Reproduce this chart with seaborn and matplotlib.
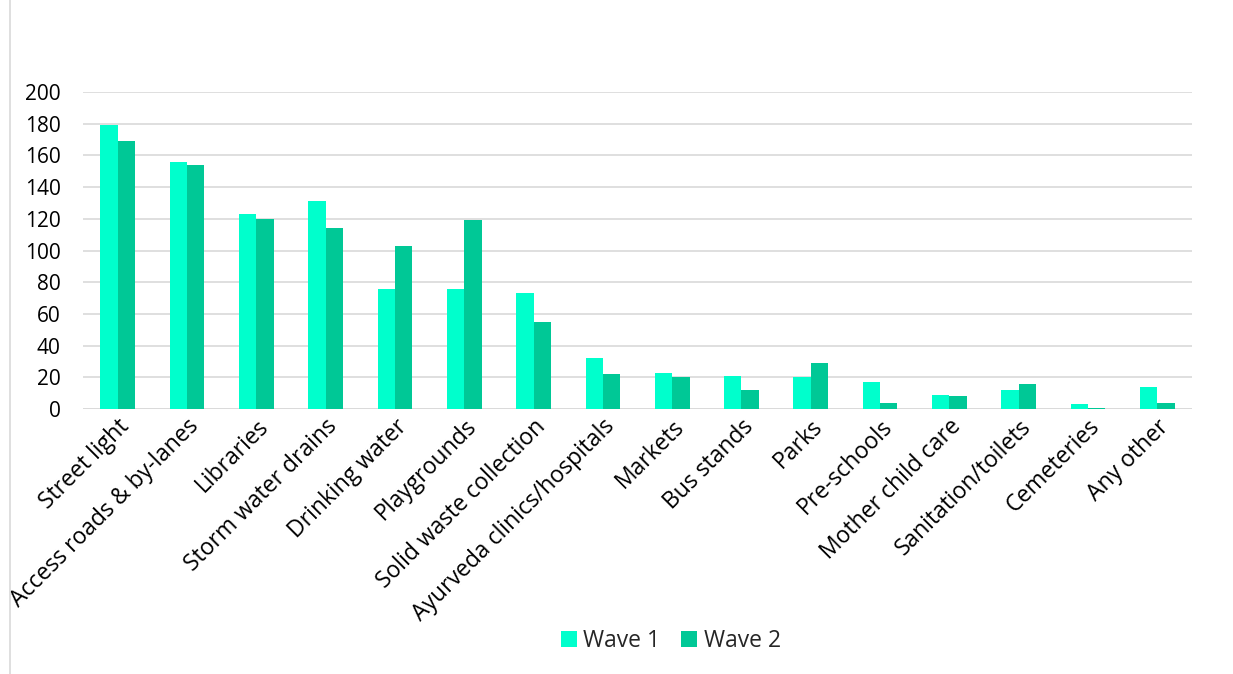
import matplotlib
matplotlib.use("Agg")
import matplotlib.pyplot as plt
import seaborn as sns
import pandas as pd
from matplotlib.patches import Rectangle

categories = ["Street light", "Access roads & by-lanes", "Libraries", "Storm water drains",
              "Drinking water", "Playgrounds", "Solid waste collection",
              "Ayurveda clinics/hospitals", "Markets", "Bus stands", "Parks", "Pre-schools",
              "Mother child care", "Sanitation/toilets", "Cemeteries", "Any other"]
wave1 = [179, 156, 123, 131, 76, 76, 73, 32, 23, 21, 20, 17, 9, 12, 3, 14]
wave2 = [169, 154, 120, 114, 103, 119, 55, 22, 20, 12, 29, 4, 8, 16, 1, 4]
series_names = ["Wave 1", "Wave 2"]
colors = ["#00FFCC", "#00C896"]
yticks = [0, 20, 40, 60, 80, 100, 120, 140, 160, 180, 200]

df = pd.DataFrame({
    "Category": categories * 2,
    "Value": wave1 + wave2,
    "Wave": [series_names[0]] * len(categories) + [series_names[1]] * len(categories),
})

sns.set_theme(style="white")
plt.rcParams["font.family"] = ["Open Sans", "DejaVu Sans"]

fig = plt.figure(figsize=(12.33, 6.74), dpi=100)
ax = fig.add_axes([0.0673, 0.393, 0.8995, 0.4705])

sns.barplot(data=df, x="Category", y="Value", hue="Wave", order=categories,
            hue_order=series_names, palette=colors, width=0.5, ax=ax,
            saturation=1, edgecolor="none", linewidth=0)

ax.set_ylim(0, 200)
ax.set_yticks(yticks)
ax.set_yticklabels([str(t) for t in yticks], fontsize=15, color="#000000")
ax.set_xlim(-0.5, len(categories) - 0.5)
ax.yaxis.grid(True, color="#D9D9D9", linewidth=1.2)
ax.set_axisbelow(True)
for s in ax.spines.values():
    s.set_visible(False)
ax.axhline(0, color="#D9D9D9", linewidth=1.2, zorder=0.5)
ax.tick_params(axis="y", length=0, pad=16)
ax.tick_params(axis="x", length=0, pad=4)
ax.set_xticks(range(len(categories)))
ax.set_xticklabels(categories, rotation=45, ha="right", rotation_mode="anchor",
                   fontsize=16.5, color="#000000")
ax.set_xlabel("")
ax.set_ylabel("")

ax.legend(loc="center", bbox_to_anchor=(0.53, -0.73), ncol=2, frameon=False,
          fontsize=16.5, handlelength=0.7, handleheight=0.7, handletextpad=0.3,
          columnspacing=0.9)

fig.patches.append(Rectangle((10 / 1233, -0.01), 1.2, 1.02, transform=fig.transFigure,
                             fill=False, edgecolor="#D9D9D9", linewidth=1.2))

fig.savefig("out.png", dpi=100, facecolor="white")
